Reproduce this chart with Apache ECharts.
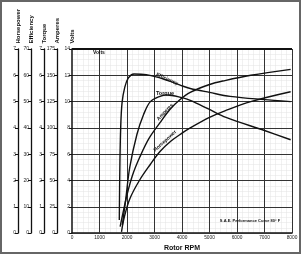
<!DOCTYPE html>
<html>
<head>
	<meta charset="utf-8">
	<title>Rotor RPM performance</title>
	<script src="https://cdn.jsdelivr.net/npm/echarts@6/dist/echarts.min.js"></script>
	<style>
		html,body{margin:0;padding:0;background:#fff;}
		#main{width:302px;height:257px;}
	</style>
</head>
<body>
<div id="main"></div>
<script type="text/javascript">
// values, y in "volts" units (0-14 scale)
var rpmGrid = [1000, 2000, 3000, 4000, 5000, 6000, 7000, 8000];
var volts = [[0, 14], [8000, 14]];
var efficiency = [[1720, 1.0], [1740, 5.0], [1770, 8.0], [1820, 9.9], [1920, 11.1], [2050, 11.8], [2250, 12.1], [2700, 12.05], [3500, 11.6], [4000, 11.2], [4300, 11.0], [5000, 10.7], [5750, 10.4], [7000, 10.15], [7950, 10.0]];
var torque = [[1830, 0.6], [1950, 2.5], [2100, 5.0], [2360, 7.5], [2600, 9.0], [2850, 10.0], [3200, 10.4], [3450, 10.5], [4000, 10.3], [4300, 10.1], [5000, 9.4], [5600, 8.8], [7000, 7.8], [7950, 7.1]];
var amperes = [[1750, 0.5], [1850, 1.5], [2000, 2.9], [2200, 4.4], [2470, 5.8], [2800, 7.2], [3200, 8.4], [3560, 9.4], [3900, 10.1], [4300, 10.7], [5000, 11.3], [5560, 11.6], [6500, 12.0], [7950, 12.45]];
var horsepower = [[1800, 0.1], [1900, 1.2], [2100, 2.6], [2450, 4.0], [2840, 5.2], [3200, 6.2], [3600, 7.0], [4000, 7.6], [4300, 8.0], [5000, 8.8], [5560, 9.3], [6500, 10.0], [7950, 10.75]];

// left hand scales
var leftAxes = [
	{name: 'Volts', max: 14, interval: 2, offset: 0},
	{name: 'Amperes', max: 175, interval: 25, offset: 15},
	{name: 'Torque', max: 7, interval: 1, offset: 28},
	{name: 'Efficiency', max: 70, interval: 10, offset: 41},
	{name: 'Horsepower', max: 7, interval: 1, offset: 54}
];

var font = 'Liberation Sans, Arial, sans-serif';

var yAxes = leftAxes.map(function(a, i){
	return {
		type: 'value',
		position: 'left',
		offset: a.offset,
		min: 0,
		max: a.max,
		interval: a.interval,
		name: a.name,
		nameLocation: 'end',
		nameRotate: 90,
		nameGap: 3,
		nameTextStyle: {fontFamily: font, fontSize: 6, fontWeight: 'bold', color: '#111'},
		axisLine: {show: true, lineStyle: {color: '#111', width: i === 0 ? 1.5 : 1.3}},
		axisTick: {show: true, length: 3, lineStyle: {color: '#111'}},
		axisLabel: {fontFamily: font, fontSize: 5, color: '#222', margin: 2},
		// volts draws the 2 V grid on top, horsepower the faint graph paper below
		splitLine: {show: i === 0, lineStyle: {color: '#333', width: 1, type: 'solid'}},
		minorTick: {show: false, splitNumber: 5},
		minorSplitLine: {show: i === 4, lineStyle: {color: '#e2e2e2', width: 0.5, type: 'solid'}},
		z: i === 4 ? 0 : 2
	};
});

function curve(name, data, w){
	return {
		name: name,
		type: 'line',
		yAxisIndex: 0,
		data: data,
		smooth: 0.35,
		showSymbol: false,
		lineStyle: {color: '#111', width: w || 1.4},
		z: 5
	};
}

var voltsSeries = curve('Volts', volts, 2);
// the 1000 rpm grid lines, drawn above the graph paper
voltsSeries.markLine = {
	silent: true,
	symbol: 'none',
	label: {show: false},
	lineStyle: {color: '#333', width: 1, type: 'solid'},
	data: rpmGrid.map(function(v){ return {xAxis: v}; })
};

var chart = echarts.init(document.getElementById('main'));
chart.setOption({
	backgroundColor: '#fff',
	animation: false,
	grid: {left: 72, right: 10, top: 49, bottom: 18},
	xAxis: {
		type: 'value',
		min: 0,
		max: 8000,
		interval: 1000,
		z: 0,
		name: 'Rotor RPM',
		nameLocation: 'middle',
		nameGap: 7,
		nameTextStyle: {fontFamily: font, fontSize: 7, fontWeight: 'bold', color: '#111'},
		axisLine: {lineStyle: {color: '#111', width: 1.5}},
		axisTick: {show: false},
		axisLabel: {fontFamily: font, fontSize: 4.8, color: '#222', margin: 2, formatter: function(v){ return String(v); }},
		splitLine: {show: false},
		minorSplitLine: {show: true, lineStyle: {color: '#e2e2e2', width: 0.5, type: 'solid'}}
	},
	yAxis: yAxes,
	series: [
		voltsSeries,
		curve('Efficiency', efficiency),
		curve('Torque', torque),
		curve('Amperes', amperes),
		curve('Horsepower', horsepower)
	],
	graphic: [
		{type: 'rect', shape: {x: 1, y: 1, width: 299, height: 252}, style: {fill: 'none', stroke: '#666', lineWidth: 2}, silent: true},
		{type: 'text', x: 93, y: 50, style: {text: 'Volts', font: 'bold 5px ' + font, fill: '#111'}, z: 10},
		{type: 'text', x: 167, y: 79, rotation: -0.42, style: {text: 'Efficiency', font: 'bold 5px ' + font, fill: '#111', align: 'center', verticalAlign: 'middle'}, z: 10},
		{type: 'text', x: 165, y: 93.5, style: {text: 'Torque', font: 'bold 5.5px ' + font, fill: '#111', align: 'center', verticalAlign: 'middle'}, z: 10},
		{type: 'text', x: 165, y: 112, rotation: 0.82, style: {text: 'Amperes', font: 'bold 5px ' + font, fill: '#111', align: 'center', verticalAlign: 'middle'}, z: 10},
		{type: 'text', x: 165, y: 141, rotation: 0.74, style: {text: 'Horsepower', font: 'bold 5px ' + font, fill: '#111', align: 'center', verticalAlign: 'middle'}, z: 10},
		{type: 'text', x: 250, y: 221, style: {text: 'S.A.E. Performance Curve 80° F', font: 'bold 4px ' + font, fill: '#111', align: 'center', verticalAlign: 'middle'}, z: 10}
	]
});
</script>
</body>
</html>
